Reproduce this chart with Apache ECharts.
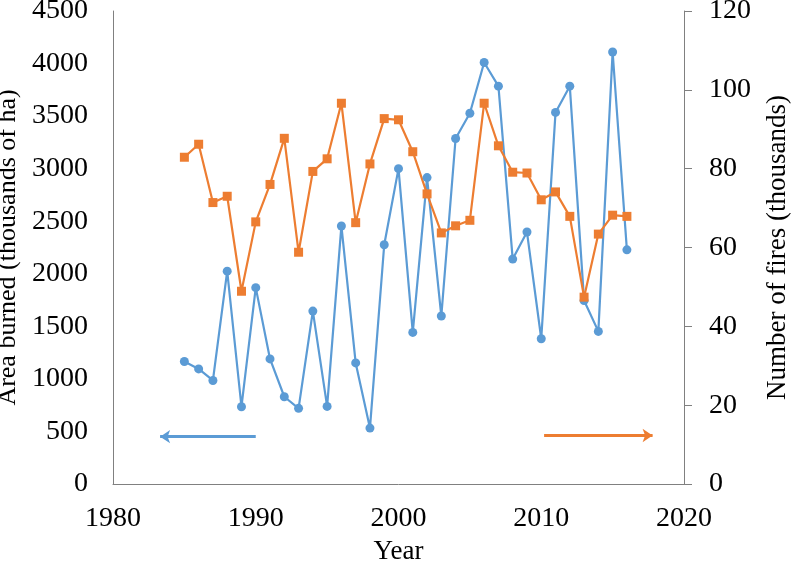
<!DOCTYPE html>
<html>
<head>
<meta charset="utf-8">
<script src="https://cdn.jsdelivr.net/npm/echarts@6/dist/echarts.min.js"></script>
<style>html,body{margin:0;padding:0;background:#fff;}#c{width:800px;height:566px;}</style>
</head>
<body>
<div id="c"></div>
<script>
const years = [1985,1986,1987,1988,1989,1990,1991,1992,1993,1994,1995,1996,1997,1998,1999,2000,2001,2002,2003,2004,2005,2006,2007,2008,2009,2010,2011,2012,2013,2014,2015,2016];
const areaBurned = [1165,1095,985,2025,735,1868,1190,830,720,1645,738,2455,1152,532,2276,3000,1442,2915,1598,3287,3527,4010,3785,2140,2397,1382,3535,3785,1745,1452,4110,2228];
const numFires = [82.9,86.2,71.4,73.0,48.9,66.5,76.0,87.7,58.8,79.3,82.5,96.6,66.3,81.2,92.7,92.4,84.3,73.6,63.7,65.5,66.9,96.6,85.8,79.1,78.9,72.1,74.1,67.9,47.4,63.4,68.2,67.9];
const xTicks = {min:1980, max:2020, interval:10};
const leftTicks = {min:0, max:4500, interval:500};
const rightTicks = {min:0, max:120, interval:20};
const blueArrow = [[1990, 450], [1983.3, 450]];
const orangeArrow = [[2010.2, 12.3], [2017.8, 12.3]];

const BLUE = '#5b9bd5', ORANGE = '#ed7d31', AX = '#808080';
const FONT = 'Liberation Serif';
const chart = echarts.init(document.getElementById('c'));
const lbl = {fontFamily: FONT, fontSize: 28, color: '#000'};
const nm = {fontFamily: FONT, fontSize: 26, color: '#000'};
const plain = v => String(v);
chart.setOption({
  animation: false,
  grid: {left: 113, right: 116, top: 11, bottom: 82, containLabel: false, outerBoundsMode: 'none'},
  xAxis: {
    type: 'value', min: xTicks.min, max: xTicks.max, interval: xTicks.interval,
    name: 'Year', nameLocation: 'middle', nameGap: 54,
    nameTextStyle: Object.assign({}, nm, {fontSize: 27}),
    axisLine: {lineStyle: {color: AX, width: 1}},
    axisTick: {show: false},
    axisLabel: Object.assign({margin: 21, formatter: plain}, lbl),
    splitLine: {show: false}
  },
  yAxis: [{
    type: 'value', min: leftTicks.min, max: leftTicks.max, interval: leftTicks.interval,
    name: 'Area burned (thousands of ha)', nameLocation: 'middle', nameGap: 81,
    nameTextStyle: nm,
    axisLine: {show: true, lineStyle: {color: AX, width: 1}},
    axisTick: {show: false},
    axisLabel: Object.assign({margin: 25, formatter: plain}, lbl),
    splitLine: {show: false}
  }, {
    type: 'value', min: rightTicks.min, max: rightTicks.max, interval: rightTicks.interval,
    position: 'right',
    name: 'Number of fires (thousands)', nameLocation: 'middle', nameGap: 80,
    nameTextStyle: Object.assign({}, nm, {fontSize: 27}),
    axisLine: {show: true, lineStyle: {color: AX, width: 1}},
    axisTick: {show: true, length: 8, lineStyle: {color: AX}},
    axisLabel: Object.assign({margin: 25, formatter: plain}, lbl),
    splitLine: {show: false}
  }],
  series: [{
    type: 'line', yAxisIndex: 0,
    data: years.map((y, i) => [y, areaBurned[i]]),
    symbol: 'circle', symbolSize: 9,
    lineStyle: {color: BLUE, width: 2.2},
    itemStyle: {color: BLUE},
    markLine: {
      silent: true, symbol: ['none', 'arrow'], symbolSize: 10,
      label: {show: false},
      lineStyle: {color: BLUE, width: 3, type: 'solid'},
      data: [[{coord: blueArrow[0]}, {coord: blueArrow[1]}]]
    }
  }, {
    type: 'line', yAxisIndex: 1,
    data: years.map((y, i) => [y, numFires[i]]),
    symbol: 'rect', symbolSize: 9,
    lineStyle: {color: ORANGE, width: 2.2},
    itemStyle: {color: ORANGE},
    markLine: {
      silent: true, symbol: ['none', 'arrow'], symbolSize: 10,
      label: {show: false},
      lineStyle: {color: ORANGE, width: 3, type: 'solid'},
      data: [[{coord: orangeArrow[0]}, {coord: orangeArrow[1]}]]
    }
  }]
});
</script>
</body>
</html>
